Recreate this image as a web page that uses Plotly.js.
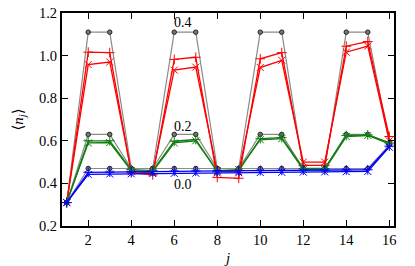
<!DOCTYPE html>
<html><head><meta charset="utf-8">
<script src="https://cdn.plot.ly/plotly-3.0.1.min.js"></script>
<style>html,body{margin:0;padding:0;background:#fff}#c{width:415px;height:266px}</style>
</head><body><div id="c"></div>
<script>
var sites = [1,2,3,4,5,6,7,8,9,10,11,12,13,14,15,16];
var gray04 = [0.31,1.11,1.11,0.47,0.47,1.11,1.11,0.47,0.47,1.11,1.11,0.47,0.47,1.11,1.11,0.59];
var gray02 = [0.31,0.63,0.63,0.47,0.47,0.63,0.63,0.47,0.47,0.63,0.63,0.47,0.47,0.63,0.63,0.59];
var gray00 = [0.31,0.47,0.47,0.47,0.47,0.47,0.47,0.47,0.47,0.47,0.47,0.47,0.47,0.47,0.47,0.58];
var redPlus = [0.31,1.016,1.014,0.45,0.44,0.982,0.992,0.428,0.424,0.985,1.014,0.485,0.485,1.044,1.066,0.62];
var redX = [0.31,0.958,0.970,0.455,0.45,0.932,0.946,0.455,0.455,0.944,0.978,0.50,0.50,1.016,1.045,0.60];
var greenPlus = [0.31,0.60,0.60,0.465,0.46,0.598,0.606,0.455,0.46,0.61,0.615,0.47,0.47,0.625,0.628,0.59];
var greenX = [0.31,0.59,0.592,0.46,0.455,0.59,0.60,0.46,0.465,0.605,0.61,0.465,0.465,0.62,0.625,0.585];
var bluePlus = [0.31,0.452,0.453,0.455,0.456,0.457,0.458,0.459,0.46,0.46,0.461,0.462,0.462,0.463,0.464,0.575];
var blueX = [0.31,0.442,0.444,0.445,0.446,0.447,0.448,0.449,0.45,0.451,0.452,0.453,0.454,0.455,0.456,0.57];
var labelText = ["0.4","0.2","0.0"];
var labelX = [6.4,6.4,6.4];
var labelY = [1.155,0.665,0.397];
var yTicks = [0.2,0.4,0.6,0.8,1.0,1.2];
var xTicks = [2,4,6,8,10,12,14,16];

var FONT = 'Liberation Serif, DejaVu Serif, serif';
function grayTrace(y){return {x:sites,y:y,mode:'lines+markers',line:{color:'#8a8a8a',width:1.2},
  marker:{symbol:'circle',size:4.5,color:'#777',line:{color:'#222',width:1}},hoverinfo:'skip'};}
function mk(y,color,sym,w){return {x:sites,y:y,mode:'lines+markers',line:{color:color,width:w},
  marker:{symbol:sym,size:7,color:color,line:{color:color,width:1}},hoverinfo:'skip'};}
var data = [
  grayTrace(gray04), grayTrace(gray02), grayTrace(gray00),
  mk(redPlus,'#ff0000','cross-thin-open',1.3), mk(redX,'#ff0000','x-thin-open',1.3),
  mk(greenPlus,'#108010','cross-thin-open',1.3), mk(greenX,'#108010','x-thin-open',1.3),
  mk(bluePlus,'#0000ff','cross-thin-open',1.3), mk(blueX,'#0000ff','x-thin-open',1.3)
];
var ann = labelText.map(function(t,i){return {x:labelX[i],y:labelY[i],text:t,showarrow:false,
  font:{family:FONT,size:14,color:'#000'},xanchor:'center',yanchor:'middle'};});
var ax = {showgrid:false,zeroline:false,showline:true,linecolor:'#000',linewidth:2,mirror:'ticks',
  ticks:'inside',ticklen:6,tickwidth:1,tickcolor:'#000',
  tickfont:{family:FONT,size:14.5,color:'#000'}};
var layout = {
  width:415,height:266,margin:{l:62,r:21,t:13,b:40},showlegend:false,
  paper_bgcolor:'#fff',plot_bgcolor:'#fff',
  xaxis:Object.assign({},ax,{range:[0.78,16.22],tickvals:xTicks,ticktext:xTicks.map(String),
    title:{text:'<i>j</i>',font:{family:FONT,size:15,color:'#000'},standoff:9}}),
  yaxis:Object.assign({},ax,{range:[0.2,1.2],tickvals:yTicks,ticktext:yTicks.map(function(v){return v.toFixed(1);}),
    title:{text:'⟨<i>n</i><sub><i>j</i></sub>⟩',font:{family:FONT,size:15,color:'#000'},standoff:12}}),
  annotations:ann
};
Plotly.newPlot('c',data,layout,{staticPlot:true,displayModeBar:false});
</script></body></html>
